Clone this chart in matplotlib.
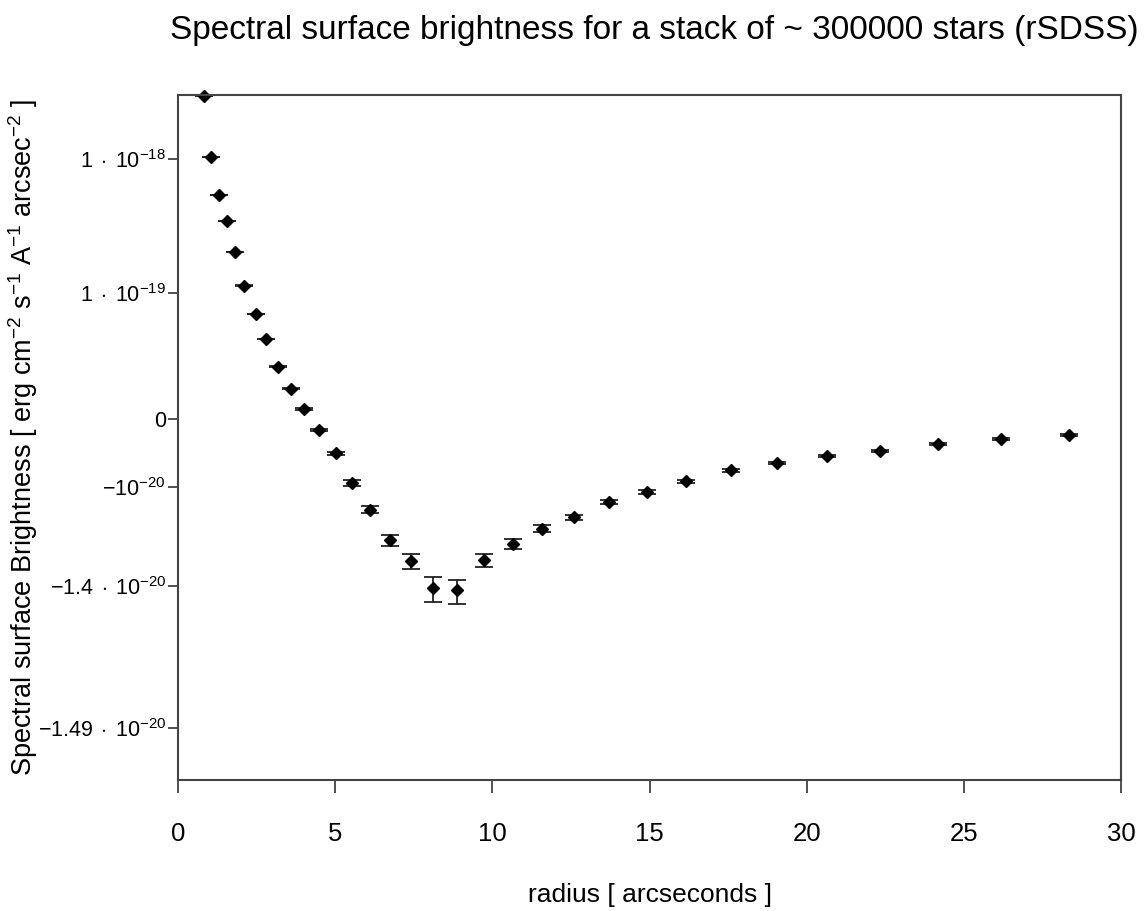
import numpy as np
import matplotlib
matplotlib.use("Agg")
from matplotlib import pyplot as plt

# radius [arcsec] and surface brightness in units of 1e-20 erg/cm2/s/A/arcsec2
radius = [0.83, 1.05, 1.30, 1.56, 1.81, 2.10, 2.48, 2.80, 3.18, 3.60, 4.01,
          4.49, 5.03, 5.54, 6.11, 6.75, 7.41, 8.11, 8.88, 9.74, 10.66, 11.58,
          12.60, 13.71, 14.92, 16.16, 17.59, 19.06, 20.65, 22.34, 24.18, 26.18,
          28.35]
sb = [281.4, 103.4, 55.0, 35.5, 20.85, 11.56, 6.78, 4.01, 2.00, 0.944, 0.265,
      -0.246, -0.637, -0.970, -1.155, -1.290, -1.350, -1.404, -1.407, -1.348,
      -1.303, -1.246, -1.196, -1.111, -1.043, -0.953, -0.846, -0.767, -0.679,
      -0.609, -0.501, -0.417, -0.344]
sb_err = [0.02, 0.02, 0.02, 0.02, 0.02, 0.02, 0.02, 0.02, 0.02, 0.02, 0.02,
          0.02, 0.022, 0.026, 0.02, 0.02, 0.019, 0.019, 0.018, 0.015,
          0.016, 0.015, 0.014, 0.014, 0.014, 0.014, 0.014, 0.014, 0.014,
          0.014, 0.014, 0.014, 0.014]

ytick_vals = [100, 10, 0, -1, -1.4, -1.49]
ytick_labels = [r"$1\;\cdot\;10^{-18}$", r"$1\;\cdot\;10^{-19}$", "0",
                r"$-10^{-20}$", r"$-1.4\;\cdot\;10^{-20}$",
                r"$-1.49\;\cdot\;10^{-20}$"]
xticks = [0, 5, 10, 15, 20, 25, 30]

unit = 1e-20
offset = 1.5e-20

plt.rcParams["font.family"] = ["Liberation Sans", "DejaVu Sans"]
plt.rcParams["mathtext.fontset"] = "custom"
plt.rcParams["mathtext.rm"] = "Liberation Sans"
plt.rcParams["mathtext.it"] = "Liberation Sans:italic"
plt.rcParams["mathtext.bf"] = "Liberation Sans:bold"


def fwd(y):
    return np.log10(np.maximum(np.asarray(y) + offset, 1e-30))


def inv(v):
    return 10 ** np.asarray(v) - offset


fig = plt.figure(figsize=(11.44, 9.11), dpi=100)
ax = fig.add_axes([0.1556, 0.1438, 0.8245, 0.7519])
ax.set_yscale("function", functions=(fwd, inv))

y = np.array(sb) * unit
yerr = np.array(sb_err) * unit
ax.errorbar(radius, y, yerr=yerr, fmt="D", color="black", ms=6.5,
            ecolor="#222222", elinewidth=1.3, capsize=6.5, capthick=1.3,
            clip_on=False)

ax.set_xlim(0, 30)
ax.set_ylim(-1.4957e-20, 2.856e-18)
ax.set_xticks(xticks)
ax.set_xticklabels([str(t) for t in xticks])
ax.set_yticks([v * unit for v in ytick_vals])
ax.set_yticklabels(ytick_labels)
ax.minorticks_off()
ax.tick_params(axis="both", direction="out", length=9, width=1.2,
               color="#333333")
ax.tick_params(axis="x", pad=21, labelsize=18.5)
ax.tick_params(axis="y", pad=1.5, labelsize=15.5, length=7)
for s in ax.spines.values():
    s.set_color("#444444")
    s.set_linewidth(1.5)

ax.set_xlabel("radius [ arcseconds ]", fontsize=19, labelpad=27)
ax.set_ylabel(r"Spectral surface Brightness [ erg cm$^{-2}$ s$^{-1}$ A$^{-1}$ arcsec$^{-2}$ ]",
              fontsize=19.5)
ax.yaxis.set_label_coords(-0.146, 0.5)
fig.suptitle("Spectral surface brightness for a stack of ~ 300000 stars (rSDSS)",
             fontsize=24, x=0.572, y=0.984)

fig.savefig("out.png", dpi=100)
